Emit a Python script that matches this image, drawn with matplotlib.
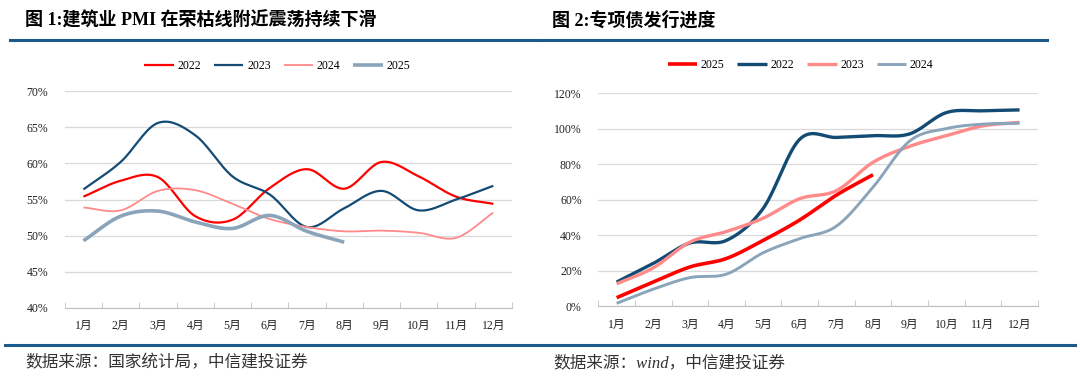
import matplotlib
matplotlib.use("Agg")
import matplotlib.pyplot as plt
import numpy as np
from matplotlib.lines import Line2D

plt.rcParams['font.family'] = ['Liberation Serif', 'Noto Sans CJK SC']

# 数据
months = ["1月", "2月", "3月", "4月", "5月", "6月", "7月", "8月", "9月", "10月", "11月", "12月"]

pmi_2022 = [55.4, 57.6, 58.1, 52.7, 52.2, 56.6, 59.2, 56.5, 60.2, 58.2, 55.4, 54.4]
pmi_2023 = [56.4, 60.2, 65.6, 63.9, 58.2, 55.7, 51.2, 53.8, 56.2, 53.5, 55.0, 56.9]
pmi_2024 = [53.9, 53.5, 56.2, 56.3, 54.4, 52.3, 51.2, 50.6, 50.7, 50.4, 49.7, 53.2]
pmi_2025 = [49.3, 52.7, 53.4, 51.9, 51.0, 52.8, 50.6, 49.1]

bond_2025 = [4.7, 13.5, 22.0, 26.8, 37.0, 48.5, 62.5, 74.0]
bond_2022 = [13.5, 24.0, 35.5, 37.0, 55.0, 94.0, 95.0, 96.0, 97.0, 109.0, 110.0, 110.5]
bond_2023 = [12.5, 21.5, 36.0, 42.0, 49.5, 60.5, 65.0, 81.0, 90.0, 96.0, 101.5, 103.5]
bond_2024 = [1.5, 9.5, 16.0, 18.0, 30.0, 38.0, 45.0, 67.0, 93.0, 100.0, 102.5, 103.0]

RED = "#FF0000"
NAVY = "#134B74"
PINK = "#FF8A8A"
GREY = "#8AA4BA"
RULE = "#1B5A8A"


def smooth(vals, n=20):
    # 类似 Excel 平滑线（Bezier 曲线穿过每个数据点）
    y = np.asarray(vals, dtype=float)
    x = np.arange(1, len(y) + 1, dtype=float)
    py = np.concatenate([[2 * y[0] - y[1]], y, [2 * y[-1] - y[-2]]])
    t = np.linspace(0, 1, n, endpoint=False)
    xs, ys = [], []
    for i in range(1, len(py) - 2):
        p0, p1, p2, p3 = py[i - 1], py[i], py[i + 1], py[i + 2]
        c1 = p1 + (p2 - p0) / 6
        c2 = p2 - (p3 - p1) / 6
        b = (1 - t) ** 3 * p1 + 3 * (1 - t) ** 2 * t * c1 + 3 * (1 - t) * t ** 2 * c2 + t ** 3 * p2
        ys.append(b)
        xs.append(x[i - 1] + t)
    xs.append([x[-1]])
    ys.append([y[-1]])
    return np.concatenate(xs), np.concatenate(ys)


def style_axes(ax, ylim, step):
    ax.set_xlim(0.5, 12.5)
    ax.set_ylim(*ylim)
    ticks = np.arange(ylim[0], ylim[1] + 0.01, step)
    ax.set_yticks(ticks)
    ax.set_yticklabels([f"{int(v)}%" for v in ticks])
    ax.set_xticks(range(1, 13))
    ax.set_xticklabels(months)
    ax.set_xticks(np.arange(0.5, 12.6, 1), minor=True)
    ax.tick_params(axis='x', which='major', length=0, pad=9, labelsize=8.5, colors="#222222")
    ax.tick_params(axis='x', which='minor', length=4, color="#BFBFBF", direction='in')
    ax.tick_params(axis='y', length=0, pad=12, labelsize=8.5, colors="#222222")
    for s in ["top", "right", "left"]:
        ax.spines[s].set_visible(False)
    ax.spines["bottom"].set_color("#BFBFBF")
    ax.grid(axis='y', color="#D9D9D9", linewidth=0.9)
    ax.set_axisbelow(True)


fig = plt.figure(figsize=(10.8, 3.83), dpi=100)

# 图1
ax1 = fig.add_axes([0.060, 0.196, 0.414, 0.566])
for vals, c, lw, lab in [(pmi_2022, RED, 1.6, "2022"), (pmi_2023, NAVY, 1.6, "2023"),
                         (pmi_2024, PINK, 1.3, "2024"), (pmi_2025, GREY, 2.6, "2025")]:
    sx, sy = smooth(vals)
    ax1.plot(sx, sy, color=c, lw=lw, label=lab, solid_capstyle='butt')
style_axes(ax1, (40, 70), 5)
ax1.legend(loc='center', bbox_to_anchor=(0.475, 1.115), ncol=4, frameon=False,
           fontsize=8.5, handlelength=2.5, columnspacing=1.1, handletextpad=0.3)

# 图2
ax2 = fig.add_axes([0.554, 0.201, 0.407, 0.556])
for vals, c, lw, lab in [(bond_2025, RED, 2.6, "2025"), (bond_2022, NAVY, 2.4, "2022"),
                         (bond_2023, PINK, 2.4, "2023"), (bond_2024, GREY, 2.1, "2024")]:
    sx, sy = smooth(vals)
    ax2.plot(sx, sy, color=c, lw=lw, label=lab, solid_capstyle='butt')
style_axes(ax2, (0, 120), 20)
ax2.legend(loc='center', bbox_to_anchor=(0.46, 1.13), ncol=4, frameon=False,
           fontsize=8.5, handlelength=2.5, columnspacing=1.1, handletextpad=0.3)

# 标题与分隔线
fig.text(25 / 1080, 1 - 20 / 383, "图 1:建筑业 PMI 在荣枯线附近震荡持续下滑", fontsize=13,
         fontweight='bold', va='center', ha='left')
fig.text(552 / 1080, 1 - 20 / 383, "图 2:专项债发行进度", fontsize=13,
         fontweight='bold', va='center', ha='left')
fig.add_artist(Line2D([10 / 1080, 540 / 1080], [1 - 40 / 383] * 2, color=RULE, lw=2.2))
fig.add_artist(Line2D([540 / 1080, 1047 / 1080], [1 - 40 / 383] * 2, color=RULE, lw=2.2))
fig.add_artist(Line2D([5 / 1080, 1075 / 1080], [1 - 345 / 383] * 2, color=RULE, lw=2.2))

fig.text(25 / 1080, 1 - 363 / 383, "数据来源：国家统计局，中信建投证券", fontsize=12,
         va='center', ha='left', color="#333333", style='italic')
fig.text(553 / 1080, 1 - 363 / 383, "数据来源：wind，中信建投证券", fontsize=12,
         va='center', ha='left', color="#333333", style='italic')

fig.savefig("out.png", dpi=100)
